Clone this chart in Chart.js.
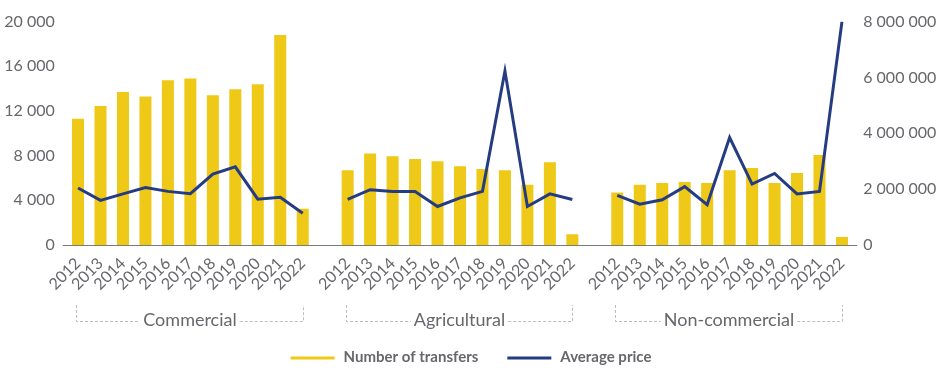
<!DOCTYPE html>
<html>
<head>
<meta charset="utf-8">
<script src="https://cdn.jsdelivr.net/npm/chart.js@4"></script>
<style>
    html, body { margin: 0; padding: 0; background: #fff; }
    #wrap { width: 942px; height: 371px; position: relative; }
</style>
</head>
<body>
<div id="wrap"><canvas id="mainChart"></canvas></div>
<script>
const years = ['2012', '2013', '2014', '2015', '2016', '2017', '2018', '2019', '2020', '2021', '2022'];
const groups = ['Commercial', 'Agricultural', 'Non-commercial'];

// Number of transfers (left axis)
const commercialTransfers = [11300, 12450, 13700, 13300, 14750, 14900, 13400, 13950, 14400, 18800, 3250];
const agriculturalTransfers = [6700, 8200, 7950, 7700, 7500, 7050, 6800, 6700, 5400, 7400, 970];
const nonCommercialTransfers = [4700, 5400, 5550, 5650, 5550, 6700, 6900, 5550, 6450, 8050, 710];

// Average price (right axis)
const commercialPrice = [2040000, 1600000, 1830000, 2060000, 1920000, 1840000, 2540000, 2800000, 1640000, 1710000, 1140000];
const agriculturalPrice = [1630000, 1980000, 1920000, 1920000, 1380000, 1690000, 1920000, 6230000, 1380000, 1830000, 1630000];
const nonCommercialPrice = [1780000, 1460000, 1620000, 2090000, 1440000, 3850000, 2180000, 2560000, 1830000, 1920000, 8000000];

const leftTicks = [0, 4000, 8000, 12000, 16000, 20000];
const rightTicks = [0, 2000000, 4000000, 6000000, 8000000];

const YELLOW = '#EFC917';
const BLUE = '#253C82';
const TEXT = '#67676c';
const FONT = 'Lato';

// one empty category between groups
const labels = [...years, '', ...years, '', ...years];
const transfers = [...commercialTransfers, null, ...agriculturalTransfers, null, ...nonCommercialTransfers];
const prices = [...commercialPrice, null, ...agriculturalPrice, null, ...nonCommercialPrice];

const fmt = v => Math.round(v).toLocaleString('en-US').replace(/,/g, ' ');

const decorations = {
    id: 'decorations',
    afterDraw(chart) {
        const { ctx, chartArea } = chart;
        const x = chart.scales.x;
        const bottom = chartArea.bottom;

        // baseline
        ctx.save();
        ctx.strokeStyle = '#7a7a7a';
        ctx.lineWidth = 1;
        ctx.beginPath();
        ctx.moveTo(chartArea.left - 4, bottom + 0.5);
        ctx.lineTo(chartArea.right + 4, bottom + 0.5);
        ctx.stroke();

        // group brackets
        ctx.font = `18px ${FONT}`;
        ctx.textAlign = 'center';
        ctx.textBaseline = 'middle';
        groups.forEach((name, g) => {
            const x1 = Math.round(x.getPixelForValue(g * 12)) - 1.5;
            const x2 = Math.round(x.getPixelForValue(g * 12 + years.length - 1)) + 0.5;
            const mid = (x1 + x2) / 2;
            const top = bottom + 60;
            const lineY = Math.round(bottom + 76) + 0.5;
            const half = ctx.measureText(name).width / 2 + 3;
            ctx.strokeStyle = '#bdbdbd';
            ctx.setLineDash([3, 2]);
            ctx.beginPath();
            ctx.moveTo(x1, top);
            ctx.lineTo(x1, lineY);
            ctx.lineTo(mid - half, lineY);
            ctx.moveTo(mid + half, lineY);
            ctx.lineTo(x2, lineY);
            ctx.lineTo(x2, top);
            ctx.stroke();
            ctx.setLineDash([]);
            ctx.fillStyle = TEXT;
            ctx.fillText(name, mid, bottom + 75);
        });

        // legend
        ctx.font = `bold 15px ${FONT}`;
        ctx.textAlign = 'left';
        const sw = 44, gap = 9, spacing = 29;
        const items = chart.data.datasets.map(ds => ({ text: ds.label, color: ds.legendColor }));
        const widths = items.map(it => sw + gap + ctx.measureText(it.text).width);
        const total = widths.reduce((a, b) => a + b, 0) + spacing * (items.length - 1);
        let lx = chart.width / 2 - total / 2;
        const ly = bottom + 112;
        items.forEach((it, i) => {
            ctx.strokeStyle = it.color;
            ctx.lineWidth = 3;
            ctx.beginPath();
            ctx.moveTo(lx, ly + 1);
            ctx.lineTo(lx + sw, ly + 1);
            ctx.stroke();
            ctx.fillStyle = TEXT;
            ctx.fillText(it.text, lx + sw + gap, ly);
            lx += widths[i] + spacing;
        });
        ctx.restore();
    }
};

new Chart(document.getElementById('mainChart'), {
    type: 'bar',
    data: {
        labels: labels,
        datasets: [
            {
                type: 'bar',
                label: 'Number of transfers',
                data: transfers,
                backgroundColor: YELLOW,
                legendColor: YELLOW,
                borderWidth: 0,
                barPercentage: 0.535,
                categoryPercentage: 1,
                yAxisID: 'y',
                order: 2
            },
            {
                type: 'line',
                label: 'Average price',
                data: prices,
                borderColor: BLUE,
                legendColor: BLUE,
                borderWidth: 3,
                pointRadius: 0,
                tension: 0,
                spanGaps: false,
                yAxisID: 'y1',
                order: 1
            }
        ]
    },
    options: {
        responsive: true,
        maintainAspectRatio: false,
        animation: false,
        layout: { padding: { top: 18, left: 0, right: 0, bottom: 0 } },
        plugins: {
            legend: { display: false },
            tooltip: { enabled: false }
        },
        scales: {
            x: {
                grid: { display: false, drawTicks: false },
                border: { display: false },
                ticks: {
                    autoSkip: false,
                    minRotation: 45,
                    maxRotation: 45,
                    padding: 9,
                    color: TEXT,
                    font: { family: FONT, size: 16 }
                },
                afterFit: s => { s.height = 126; }
            },
            y: {
                position: 'left',
                min: 0,
                max: leftTicks[leftTicks.length - 1],
                afterBuildTicks: s => { s.ticks = leftTicks.map(v => ({ value: v })); },
                grid: { display: false, drawTicks: false },
                border: { display: false },
                ticks: {
                    padding: 12,
                    color: TEXT,
                    font: { family: FONT, size: 16 },
                    callback: v => fmt(v)
                },
                afterFit: s => { s.width = 66.8; }
            },
            y1: {
                position: 'right',
                min: 0,
                max: rightTicks[rightTicks.length - 1],
                afterBuildTicks: s => { s.ticks = rightTicks.map(v => ({ value: v })); },
                grid: { display: false, drawTicks: false },
                border: { display: false },
                ticks: {
                    padding: 10,
                    color: TEXT,
                    font: { family: FONT, size: 16 },
                    callback: v => fmt(v)
                },
                afterFit: s => { s.width = 88.8; }
            }
        }
    },
    plugins: [decorations]
});
</script>
</body>
</html>
